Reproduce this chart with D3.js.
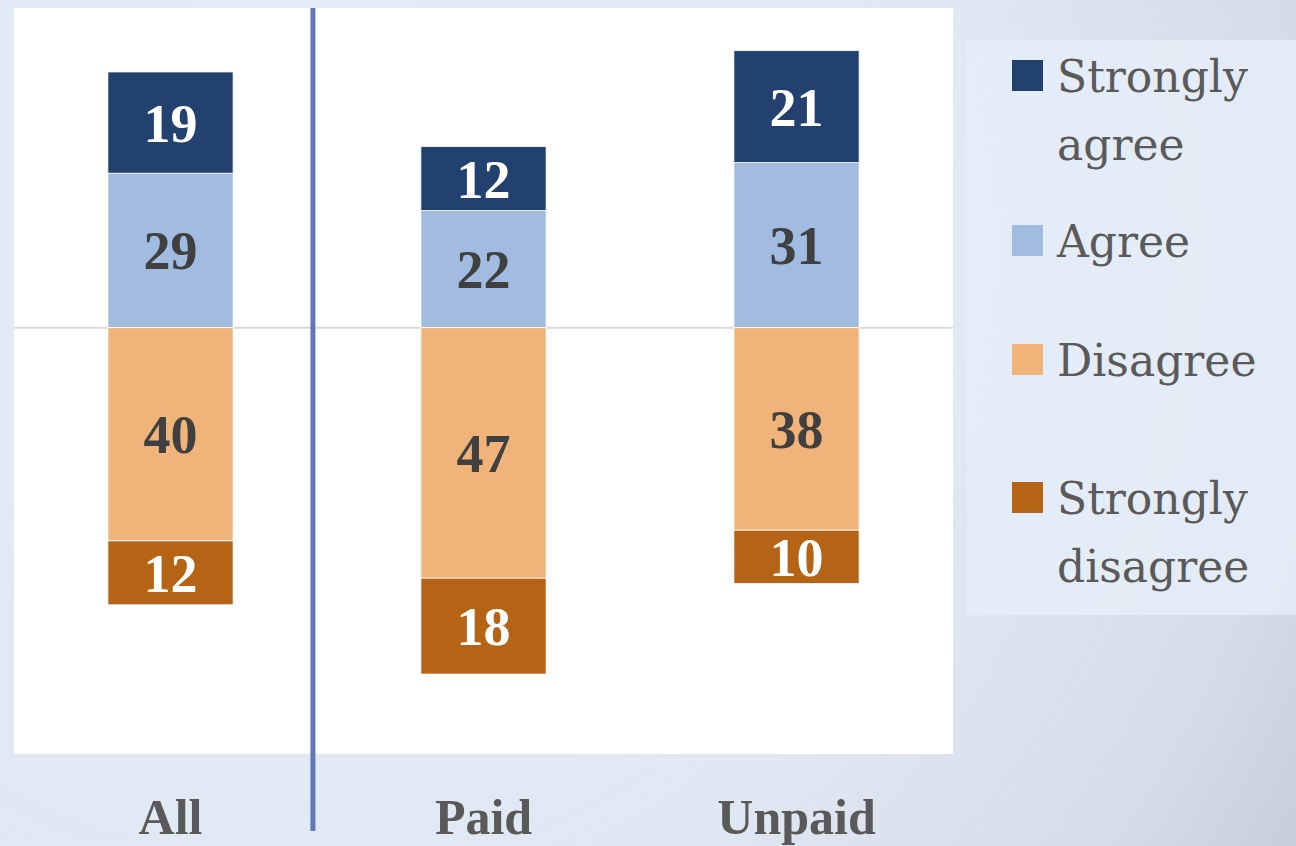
<!DOCTYPE html>
<html><head><meta charset="utf-8">
<script src="https://cdn.jsdelivr.net/npm/d3@7"></script>
<style>html,body{margin:0;padding:0;overflow:hidden;}svg{display:block;}</style>
</head><body>
<svg id="chart" width="1296" height="846"></svg>
<script>
const categories = ["All", "Paid", "Unpaid"];
const stronglyAgree = [19, 12, 21];
const agree = [29, 22, 31];
const disagree = [40, 47, 38];
const stronglyDisagree = [12, 18, 10];
const seriesNames = ["Strongly agree", "Agree", "Disagree", "Strongly disagree"];
const seriesColors = ["#22416f", "#a1bbe1", "#f0b47b", "#b46414"];

const svg = d3.select("#chart");
const W = 1296, H = 846;
const defs = svg.append("defs");
const grad = defs.append("radialGradient").attr("id", "bg")
  .attr("gradientUnits", "userSpaceOnUse")
  .attr("cx", 300).attr("cy", 250).attr("r", 1250);
grad.append("stop").attr("offset", "0").attr("stop-color", "#e3ecf8");
grad.append("stop").attr("offset", "0.55").attr("stop-color", "#e0e8f3");
grad.append("stop").attr("offset", "0.8").attr("stop-color", "#d6dce8");
grad.append("stop").attr("offset", "1").attr("stop-color", "#bfc5d3");
svg.append("rect").attr("width", W).attr("height", H).attr("fill", "url(#bg)");

const plot = {left: 14, right: 953, top: 8, bottom: 754};
svg.append("rect").attr("x", plot.left).attr("y", plot.top)
  .attr("width", plot.right - plot.left).attr("height", plot.bottom - plot.top)
  .attr("fill", "#ffffff");

const x = d3.scaleBand().domain(categories).range([plot.left, plot.right])
  .paddingInner(0.6).paddingOuter(0.3);
const y = d3.scaleLinear().domain([-80, 60]).range([plot.bottom, plot.top]);

// zero line
svg.append("line").attr("x1", plot.left).attr("x2", plot.right)
  .attr("y1", y(0)).attr("y2", y(0)).attr("stroke", "#d9d9d9").attr("stroke-width", 2);

// build segments
const segs = [];
categories.forEach((c, i) => {
  segs.push({cat: c, s: 1, y0: 0, y1: agree[i], v: agree[i]});
  segs.push({cat: c, s: 0, y0: agree[i], y1: agree[i] + stronglyAgree[i], v: stronglyAgree[i]});
  segs.push({cat: c, s: 2, y0: 0, y1: -disagree[i], v: disagree[i]});
  segs.push({cat: c, s: 3, y0: -disagree[i], y1: -disagree[i] - stronglyDisagree[i], v: stronglyDisagree[i]});
});

svg.append("g").selectAll("rect").data(segs).join("rect")
  .attr("x", d => x(d.cat))
  .attr("width", x.bandwidth())
  .attr("y", d => Math.min(y(d.y0), y(d.y1)))
  .attr("height", d => Math.abs(y(d.y0) - y(d.y1)))
  .attr("fill", d => seriesColors[d.s])
  .attr("stroke", "#ffffff").attr("stroke-width", 0.8);

svg.append("g").selectAll("text").data(segs).join("text")
  .attr("x", d => x(d.cat) + x.bandwidth() / 2)
  .attr("y", d => (y(d.y0) + y(d.y1)) / 2 + 19)
  .attr("text-anchor", "middle")
  .attr("font-family", "'Liberation Serif', serif")
  .attr("font-weight", "bold")
  .attr("font-size", 54)
  .attr("fill", d => (d.s === 0 || d.s === 3) ? "#ffffff" : "#404040")
  .text(d => d.v);

// divider
const divX = x("All") + x.step() * 0.655;
svg.append("line").attr("x1", divX).attr("x2", divX)
  .attr("y1", plot.top).attr("y2", 831)
  .attr("stroke", "#6478b9").attr("stroke-width", 5);

// category labels
svg.append("g").selectAll("text").data(categories).join("text")
  .attr("x", d => x(d) + x.bandwidth() / 2)
  .attr("y", 834)
  .attr("text-anchor", "middle")
  .attr("font-family", "'Liberation Serif', serif")
  .attr("font-weight", "bold")
  .attr("font-size", 50)
  .attr("fill", "#595959")
  .text(d => d);

// legend
svg.append("rect").attr("x", 967).attr("y", 40).attr("width", 329).attr("height", 575)
  .attr("fill", "#e5edf8").attr("opacity", 0.85);
const legendLines = [["Strongly", "agree"], ["Agree"], ["Disagree"], ["Strongly", "disagree"]];
const legendTop = [60, 225, 344, 482];
const lg = svg.append("g").selectAll("g").data(seriesNames).join("g")
  .attr("transform", (d, i) => `translate(1012,${legendTop[i]})`);
lg.append("rect").attr("width", 31).attr("height", 31)
  .attr("fill", (d, i) => seriesColors[i]);
lg.append("text")
  .attr("font-family", "'DejaVu Serif', serif")
  .attr("font-size", 44)
  .attr("fill", "#5a5a5a")
  .selectAll("tspan").data((d, i) => legendLines[i]).join("tspan")
  .attr("x", 45).attr("y", (d, j) => 32 + j * 68)
  .text(d => d);
</script>
</body></html>
